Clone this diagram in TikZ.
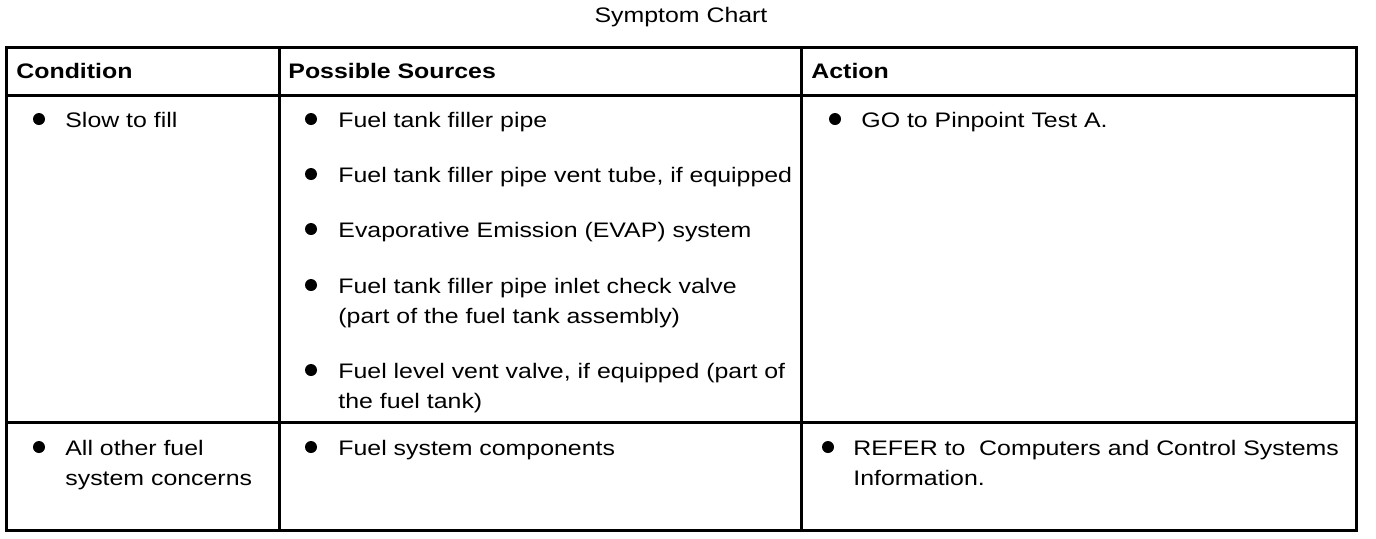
\documentclass[tikz,border=0pt]{standalone}
\usepackage{fontspec}
\setmainfont{Liberation Sans}[FakeStretch=1.185]
\usetikzlibrary{positioning}

\begin{document}
\begin{tikzpicture}[x=0.5pt,y=-0.5pt,
    rule/.style={line width=1.5pt},
    txt/.style={anchor=base west,inner sep=0pt,align=left,font=\fontsize{10.5}{15}\selectfont},
    hd/.style={txt,font=\fontsize{10.5}{15}\selectfont\bfseries},
    dot/.style={circle,fill,inner sep=0pt,minimum size=6pt}]
        \useasboundingbox (0,0) rectangle (1376,538);
        \node [anchor=base,font=\fontsize{10.5}{15}\selectfont] (title) at (681,22) {Symptom Chart};

        % table frame
        \draw [rule] (6,47) rectangle (1356,530);
        \draw [rule] (6,95) -- (1356,95);
        \draw [rule] (6,422) -- (1356,422);
        \draw [rule] (279,47) -- (279,530);
        \draw [rule] (801,47) -- (801,530);

        \node [hd] (hcond) at (16,78) {Condition};
        \node [hd] (hsrc) at (288,78) {Possible Sources};
        \node [hd] (hact) at (811,78) {Action};

        % first row (base is the last line)
        \node [txt] (c1) at (65,127) {Slow to fill};
        \node [txt] (s1) at (338,127) {Fuel tank filler pipe};
        \node [txt] (s2) at (338,182) {Fuel tank filler pipe vent tube, if equipped};
        \node [txt] (s3) at (338,237) {Evaporative Emission (EVAP) system};
        \node [txt] (s4) at (338,323) {Fuel tank filler pipe inlet check valve\\(part of the fuel tank assembly)};
        \node [txt] (s5) at (338,408) {Fuel level vent valve, if equipped (part of\\the fuel tank)};
        \node [txt] (a1) at (861,127) {GO to Pinpoint Test A.};

        % second row
        \node [txt] (c2) at (65,485) {All other fuel\\system concerns};
        \node [txt] (s6) at (338,455) {Fuel system components};
        \node [txt] (a2) at (853,485) {REFER to~ Computers and Control Systems\\Information.};

        \node [dot] (dc1) at (39,119) {};
        \node [dot] (da1) at (835,119) {};
        \foreach \y/\n in {119/1,174/2,229/3,285/4,370/5,447/6}
            \node [dot] (ds\n) at (311,\y) {};
        \node [dot] (dc2) at (39,447) {};
        \node [dot] (da2) at (828,447) {};
\end{tikzpicture}
\end{document}
